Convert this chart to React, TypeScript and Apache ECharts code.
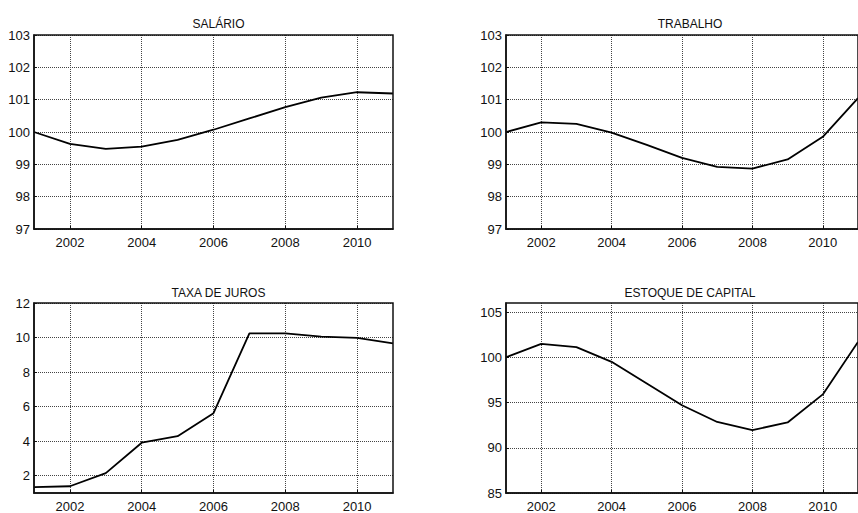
import React, { useEffect, useRef } from "react";
import * as echarts from "echarts";

const years = [2001, 2002, 2003, 2004, 2005, 2006, 2007, 2008, 2009, 2010, 2011];
const xTicks = [2002, 2004, 2006, 2008, 2010];

const salario = [100, 99.63, 99.48, 99.55, 99.76, 100.07, 100.42, 100.77, 101.06, 101.23, 101.19];
const trabalho = [100, 100.3, 100.25, 99.98, 99.6, 99.2, 98.92, 98.87, 99.15, 99.85, 101.05];
const taxaJuros = [1.34, 1.39, 2.15, 3.91, 4.29, 5.62, 10.24, 10.24, 10.05, 9.98, 9.66];
const estoqueCapital = [100, 101.48, 101.12, 99.5, 97.1, 94.7, 92.85, 91.95, 92.8, 95.9, 101.7];

const titles = ["SALÁRIO", "TRABALHO", "TAXA DE JUROS", "ESTOQUE DE CAPITAL"];
const yTicksTop = [97, 98, 99, 100, 101, 102, 103];
const yTicksTaxa = [2, 4, 6, 8, 10, 12];
const yTicksCap = [85, 90, 95, 100, 105];

const FONT = "'Liberation Sans', Arial, sans-serif";

export default function App() {
  const ref = useRef<HTMLDivElement>(null);
  useEffect(() => {
    if (!ref.current) return;
    const chart = echarts.init(ref.current, undefined, { renderer: "svg" });
    const grids = [
      { left: 34, top: 35, width: 359, height: 194 },
      { left: 506, top: 35, width: 358, height: 194 },
      { left: 34, top: 303, width: 359, height: 194.5 },
      { left: 506, top: 303, width: 358, height: 194.5 },
    ];
    const yDefs = [
      { min: 97, max: 103, ticks: yTicksTop },
      { min: 97, max: 103, ticks: yTicksTop },
      { min: 1, max: 12, ticks: yTicksTaxa },
      { min: 85, max: 106, ticks: yTicksCap },
    ];
    const datas = [salario, trabalho, taxaJuros, estoqueCapital];
    const titleTops = [13, 13, 282, 282];

    const option: any = {
      animation: false,
      backgroundColor: "#fff",
      textStyle: { fontFamily: FONT },
      title: grids.map((g, i) => ({
        text: titles[i],
        left: g.left + g.width / 2,
        top: titleTops[i],
        textAlign: "center",
        textStyle: { fontFamily: FONT, fontSize: 12, fontWeight: "normal", color: "#111" },
      })),
      grid: grids.map((g) => ({
        ...g,
        show: true,
        borderColor: "#111",
        borderWidth: 1.5,
        backgroundColor: "transparent",
        z: 10,
      })),
      xAxis: grids.map((_, i) => ({
        type: "value",
        gridIndex: i,
        min: 2001,
        max: 2011,
        axisLine: { show: true, lineStyle: { color: "#111", width: 1.5 } },
        axisTick: {
          show: true,
          inside: true,
          length: 3,
          customValues: xTicks,
          lineStyle: { color: "#111" },
        },
        axisLabel: {
          customValues: xTicks,
          margin: 7,
          fontFamily: FONT,
          fontSize: 13,
          color: "#111",
          formatter: (v: number) => String(v),
        },
        splitLine: {
          show: true,
          lineStyle: { color: "#444", width: 1, type: [1, 1] },
        },
      })),
      yAxis: grids.map((_, i) => ({
        type: "value",
        gridIndex: i,
        min: yDefs[i].min,
        max: yDefs[i].max,
        axisLine: { show: true, lineStyle: { color: "#111", width: 1.5 } },
        axisTick: {
          show: true,
          inside: true,
          length: 3,
          customValues: yDefs[i].ticks,
          lineStyle: { color: "#111" },
        },
        axisLabel: {
          customValues: yDefs[i].ticks,
          margin: 4,
          fontFamily: FONT,
          fontSize: 13,
          color: "#111",
        },
        splitLine: {
          show: true,
          lineStyle: { color: "#444", width: 1, type: [1, 1] },
        },
      })),
      series: datas.map((d, i) => ({
        type: "line",
        xAxisIndex: i,
        yAxisIndex: i,
        data: years.map((y, k) => [y, d[k]]),
        showSymbol: false,
        symbol: "none",
        lineStyle: { color: "#000", width: 1.8 },
        z: 5,
      })),
    };
    chart.setOption(option);
    return () => chart.dispose();
  }, []);
  return (
    <div
      ref={ref}
      style={{ position: "fixed", left: 0, top: 0, width: 858, height: 513, background: "#fff" }}
    />
  );
}
